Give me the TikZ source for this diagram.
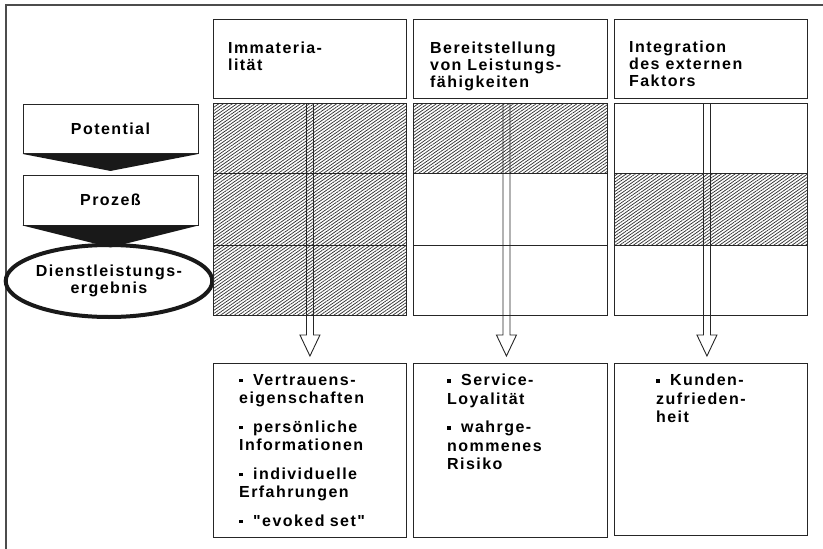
\documentclass[tikz,border=0pt]{standalone}
\usepackage{fontspec}
\newfontfamily\diafont{Liberation Sans}[LetterSpace=9]
\usetikzlibrary{shapes.geometric,patterns.meta,calc}
\newcommand\bitem[1]{\noindent\hangindent=14pt\hangafter=1\makebox[14pt][l]{\rule[3pt]{3.5pt}{3.5pt}}#1\par\vskip10pt}
\newcommand\myarrow[3]{%
  \draw[box] ($(#1.north)+(#3-3.5,0)$) -- ($(#2.north)+(#3-3.5,-28)$) -- ($(#2.north)+(#3-10,-28)$)
     -- ($(#2.north)+(#3,-7)$) -- ($(#2.north)+(#3+10,-28)$) -- ($(#2.north)+(#3+3.5,-28)$)
     -- ($(#1.north)+(#3+3.5,0)$);}
\tikzset{
  box/.style={draw=black!85, line width=0.9pt},
  frame/.style={draw=black!70, line width=1.3pt},
  lbl/.style={font=\diafont\bfseries\fontsize{16}{17}\selectfont, inner sep=0pt, align=left},
  cell/.style={box, anchor=north west, inner sep=0pt},
  hatch/.style={pattern={Lines[angle=35,distance=2.6pt,line width=0.75pt]}, pattern color=black!80},
  lbox/.style={box, minimum width=175pt, inner sep=0pt, font=\diafont\bfseries\fontsize{16}{17}\selectfont},
  listbox/.style={anchor=north west, inner sep=0pt, text width=175pt, font=\diafont\bfseries\fontsize{16}{18.5}\selectfont},
}
\begin{document}
\begin{tikzpicture}[x=1pt,y=-1pt]
\useasboundingbox (0,0) rectangle (823,549);
\draw[frame] (6,549) -- (6,5) -- (823,5);

% left column
\node[lbox, minimum height=49pt] (pot) at (110.5,129) {Potential};
\fill[black!90] (pot.south west) -- (pot.south east) -- ($(pot.south)+(0,17)$) -- cycle;
\node[lbox, minimum height=50pt] (proz) at (110.5,200) {Proze\ss};
\node[ellipse, draw=black!90, line width=4pt, minimum width=188pt, minimum height=72pt, inner sep=0pt,
      align=center, font=\diafont\bfseries\fontsize{16}{17}\selectfont] (erg) at (109,281) {Dienstleistungs-\\ergebnis};
\fill[black!90] (proz.south west) -- (proz.south east) -- ($(proz.south)+(0,22)$) -- cycle;

% header boxes
\node[cell, minimum width=193pt, minimum height=79pt] (h1) at (213,19) {};
\node[cell, minimum width=194pt, minimum height=79pt] (h2) at (413,19) {};
\node[cell, minimum width=193pt, minimum height=79pt] (h3) at (614,19) {};
\node[lbl, anchor=north west] (h1t) at (228,42) {Immateria-\\lit\"at};
\node[lbl, anchor=north west] (h2t) at (430,42) {Bereitstellung\\von Leistungs-\\f\"ahigkeiten};
\node[lbl, anchor=north west] (h3t) at (629,41) {Integration\\des externen\\Faktors};

% hatched cells
\fill[hatch] (213,103) rectangle (406,315);
\fill[hatch] (413,103) rectangle (607,173);
\fill[hatch] (614,173) rectangle (807,245);

% grids
\node[cell, minimum width=193pt, minimum height=212pt] (g1) at (213,103) {};
\node[cell, minimum width=194pt, minimum height=212pt] (g2) at (413,103) {};
\node[cell, minimum width=193pt, minimum height=212pt] (g3) at (614,103) {};
\draw[box] (g1.west |- 0,173) -- (g1.east |- 0,173) (g1.west |- 0,245) -- (g1.east |- 0,245);
\draw[box] (g2.west |- 0,173) -- (g2.east |- 0,173) (g2.west |- 0,245) -- (g2.east |- 0,245);
\draw[box] (g3.west |- 0,173) -- (g3.east |- 0,173) (g3.west |- 0,245) -- (g3.east |- 0,245);

% bottom boxes
\node[cell, minimum width=193pt, minimum height=174pt] (b1) at (213,363) {};
\node[cell, minimum width=194pt, minimum height=174pt] (b2) at (413,363) {};
\node[cell, minimum width=193pt, minimum height=172pt] (b3) at (614,363) {};

% arrows
\myarrow{g1}{b1}{0}
\myarrow{g2}{b2}{-4}
\myarrow{g3}{b3}{-4}

% lists
\node[listbox] (l1) at (239,374) {\bitem{Vertrauens-\\eigenschaften}\bitem{pers\"onliche\\Informationen}\bitem{individuelle\\Erfahrungen}\bitem{"evoked set"}};
\node[listbox] (l2) at (447,374) {\bitem{Service-\\Loyalit\"at}\bitem{wahrge-\\nommenes\\Risiko}};
\node[listbox] (l3) at (656,374) {\bitem{Kunden-\\zufrieden-\\heit}};
\end{tikzpicture}
\end{document}
